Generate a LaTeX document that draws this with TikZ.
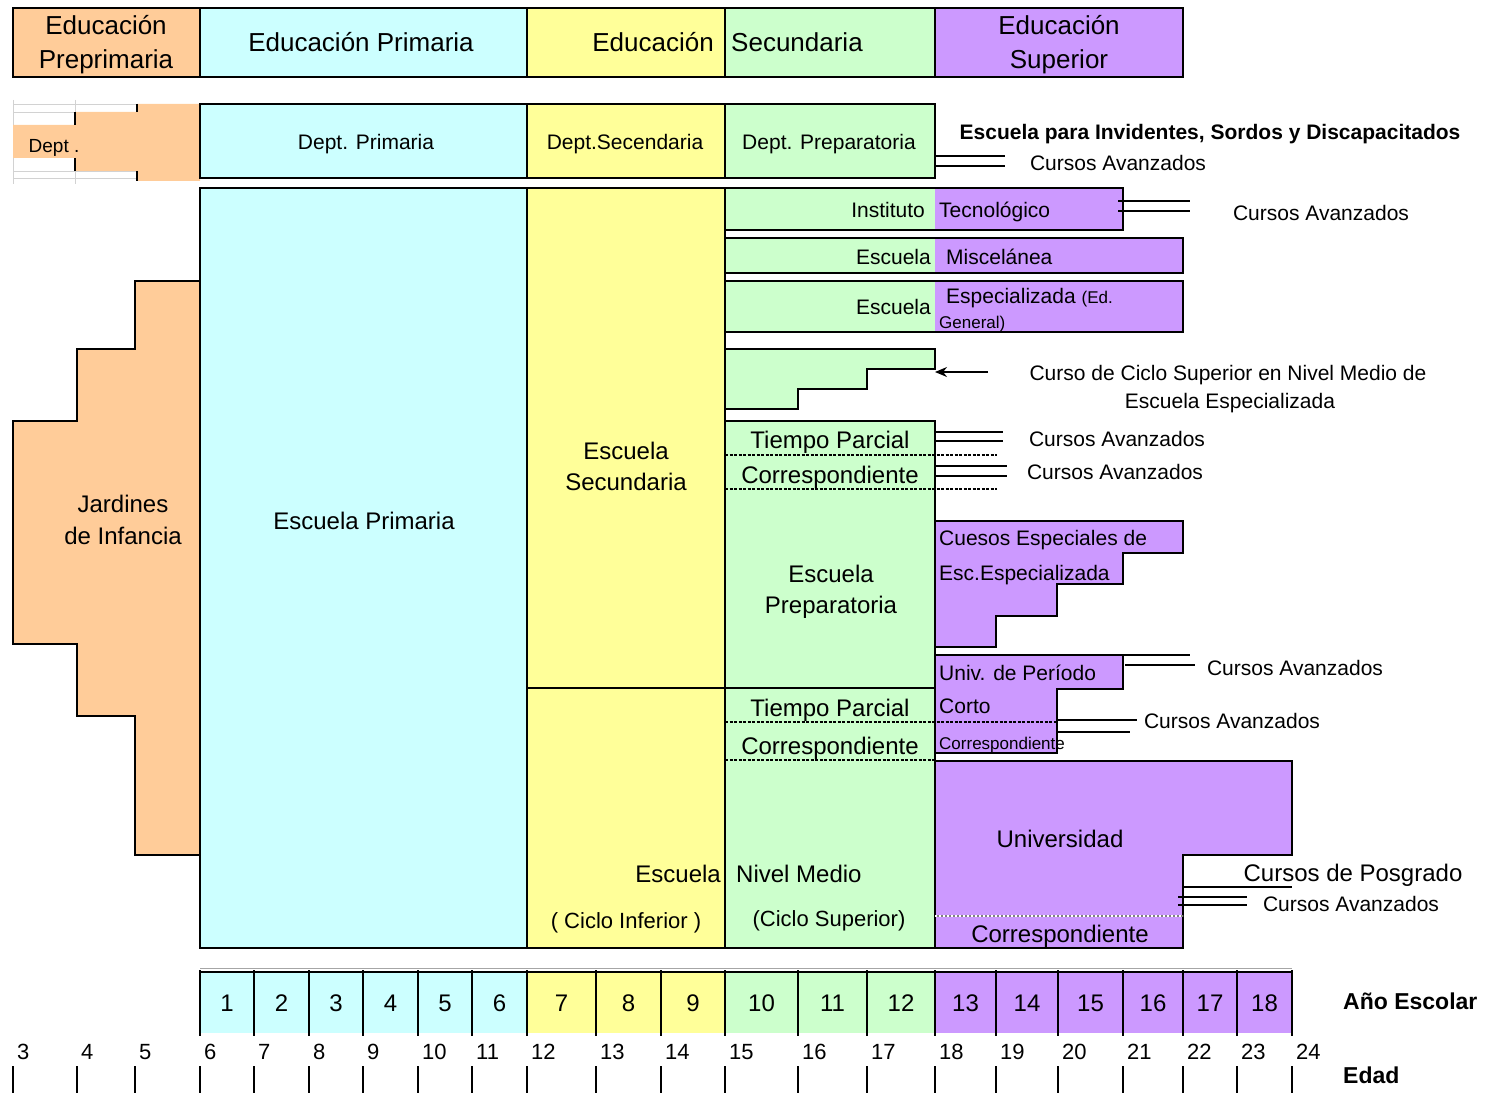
\documentclass[tikz,border=0pt]{standalone}
\usepackage{fontspec}
\setmainfont{Liberation Sans}
\usetikzlibrary{arrows.meta}
\definecolor{cOr}{HTML}{FFCC99}
\definecolor{cCy}{HTML}{CCFFFF}
\definecolor{cYe}{HTML}{FFFF99}
\definecolor{cGr}{HTML}{CCFFCC}
\definecolor{cPu}{HTML}{CC99FF}
\begin{document}
\begin{tikzpicture}[x=1pt,y=-1pt,
  bx/.style={draw=black,line width=1.6pt},
  thin line/.style={draw=black,line width=1.1pt},
  dashline/.style={draw=black,line width=1.2pt,dash pattern=on 3pt off 1.5pt},
  txt/.style={inner sep=0pt,text height=0.72em,text depth=0.21em,yshift=-5.5pt},
  f26/.style={txt,font=\fontsize{26}{30}\selectfont},
  f24/.style={txt,font=\fontsize{24}{28}\selectfont},
  f22/.style={txt,font=\fontsize{22}{26}\selectfont},
  f21/.style={txt,font=\fontsize{21}{25}\selectfont},
  f19/.style={txt,font=\fontsize{19}{23}\selectfont},
  f17/.style={txt,font=\fontsize{17}{20}\selectfont},
  fb/.style={txt,font=\fontsize{22}{26}\selectfont\bfseries},
]
\useasboundingbox (0,0) rectangle (1493,1094);

% ---------- header row ----------
\fill[cOr] (13,8) rectangle (200,77);
\fill[cCy] (200,8) rectangle (527,77);
\fill[cYe] (527,8) rectangle (725,77);
\fill[cGr] (725,8) rectangle (935,77);
\fill[cPu] (935,8) rectangle (1183,77);
\draw[bx] (13,8) rectangle (200,77);
\draw[bx] (200,8) rectangle (527,77);
\draw[bx] (527,8) rectangle (725,77);
\draw[bx] (725,8) rectangle (935,77);
\draw[bx] (935,8) rectangle (1183,77);
\node[f26] (h1a) at (106,26) {Educación};
\node[f26] (h1b) at (106,60) {Preprimaria};
\node[f26] (h2) at (361,43) {Educación Primaria};
\node[f26,anchor=east] (h3) at (714,43) {Educación};
\node[f26,anchor=west] (h4) at (731,43) {Secundaria};
\node[f26] (h5a) at (1059,26) {Educación};
\node[f26] (h5b) at (1059,60) {Superior};

% ---------- department row ----------
\draw[gray!35,line width=0.8pt] (13,100) -- (13,184) (75,100) -- (75,184)
  (13,104) -- (137,104) (13,112) -- (137,112) (13,171) -- (137,171) (13,178) -- (137,178);
\fill[cOr] (13,125) -- (75,125) -- (75,112) -- (137,112) -- (137,104) -- (200,104)
  -- (200,181) -- (137,181) -- (137,171) -- (75,171) -- (75,158) -- (13,158) -- cycle;
\draw[thin line] (75,112) -- (75,125) (75,158) -- (75,171) (137,104) -- (137,112) (137,171) -- (137,181);
\node[f19] (dpre) at (54,144) {Dept .};
\fill[cCy] (200,104) rectangle (527,178);
\fill[cYe] (527,104) rectangle (725,178);
\fill[cGr] (725,104) rectangle (935,178);
\draw[bx] (200,104) rectangle (527,178);
\draw[bx] (527,104) rectangle (725,178);
\draw[bx] (725,104) rectangle (935,178);
\node[f21] (dpri) at (366,141) {Dept. Primaria};
\node[f21] (dsec) at (625,141) {Dept.Secendaria};
\node[f21] (dprep) at (829,141) {Dept. Preparatoria};
\node[fb,font=\fontsize{21}{25}\selectfont\bfseries] (esp) at (1210,131) {Escuela para Invidentes, Sordos y Discapacitados};
\draw[thin line] (935,156) -- (1005,156) (935,166) -- (1005,166);
\node[f21] (ca1) at (1118,162) {Cursos Avanzados};

% ---------- kindergarten ----------
\draw[bx,fill=cOr] (135,281) -- (200,281) -- (200,855) -- (135,855) -- (135,716) -- (77,716)
  -- (77,644) -- (13,644) -- (13,421) -- (77,421) -- (77,349) -- (135,349) -- cycle;
\node[f24] (jar1) at (123,504) {Jardines};
\node[f24] (jar2) at (123,536) {de Infancia};

% ---------- primary ----------
\draw[bx,fill=cCy] (200,188) rectangle (527,948);
\node[f24] (prim) at (364,521) {Escuela Primaria};

% ---------- secondary (yellow) ----------
\draw[bx,fill=cYe] (527,188) rectangle (725,688);
\draw[bx,fill=cYe] (527,688) rectangle (725,948);
\node[f24] (sec1) at (626,451) {Escuela};
\node[f24] (sec2) at (626,482) {Secundaria};
\node[f24,anchor=east] (escm) at (721,874) {Escuela};
\node[f22] (cinf) at (626,920) {( Ciclo Inferior )};

% ---------- green column ----------
\fill[cGr] (725,188) rectangle (935,230);
\fill[cPu] (935,188) rectangle (1123,230);
\draw[bx] (725,188) rectangle (1123,230);
\node[f21,anchor=east] (inst) at (925,209) {Instituto};
\node[f21,anchor=west] (tec) at (939,209) {Tecnológico};
\draw[thin line] (1118,201) -- (1190,201) (1118,211) -- (1190,211);
\node[f21] (ca2) at (1321,212) {Cursos Avanzados};

\fill[cGr] (725,238) rectangle (935,273);
\fill[cPu] (935,238) rectangle (1183,273);
\draw[bx] (725,238) rectangle (1183,273);
\node[f21,anchor=east] (esc2) at (931,256) {Escuela};
\node[f21,anchor=west] (misc) at (946,256) {Miscelánea};

\fill[cGr] (725,281) rectangle (935,332);
\fill[cPu] (935,281) rectangle (1183,332);
\draw[bx] (725,281) rectangle (1183,332);
\node[f21,anchor=east] (esc3) at (931,306) {Escuela};
\node[f21,anchor=west] (espz) at (946,295) {Especializada {\fontsize{17}{20}\selectfont(Ed.}};
\node[f17,anchor=west] (gen) at (939,320) {General)};

\draw[bx,fill=cGr] (725,349) -- (935,349) -- (935,369) -- (867,369) -- (867,389) -- (798,389)
  -- (798,409) -- (725,409) -- cycle;
\coordinate (stepc) at (935,372);
\coordinate (arrs) at (988,372);
\draw[line width=1.3pt,-{Stealth[length=12pt,width=10pt]}] (arrs) -- (stepc);
\node[f21] (cc1) at (1228,372) {Curso de Ciclo Superior en Nivel Medio de};
\node[f21] (cc2) at (1230,400) {Escuela Especializada};

\draw[bx,fill=cGr] (725,421) rectangle (935,948);
\draw[bx] (527,688) -- (935,688);
\node[f24] (tp1) at (830,440) {Tiempo Parcial};
\node[f24] (co1) at (830,475) {Correspondiente};
\draw[dashline] (725,455) -- (997,455) (725,489) -- (997,489);
\draw[thin line] (935,432) -- (1003,432) (935,441) -- (1003,441);
\draw[thin line] (935,466) -- (1007,466) (935,476) -- (1007,476);
\node[f21] (ca3) at (1117,438) {Cursos Avanzados};
\node[f21] (ca4) at (1115,471) {Cursos Avanzados};
\node[f24] (prep1) at (831,574) {Escuela};
\node[f24] (prep2) at (831,605) {Preparatoria};
\node[f24] (tp2) at (830,708) {Tiempo Parcial};
\node[f24] (co2) at (830,746) {Correspondiente};
\node[f24,anchor=west] (nm) at (736,874) {Nivel Medio};
\node[f22] (csup) at (829,918) {(Ciclo Superior)};

% ---------- purple (superior) ----------
\draw[bx,fill=cPu] (935,521) -- (1183,521) -- (1183,553) -- (1123,553) -- (1123,584) -- (1057,584)
  -- (1057,616) -- (996,616) -- (996,647) -- (935,647) -- cycle;
\node[f21,anchor=west] (cue1) at (939,537) {Cuesos Especiales de};
\node[f21,anchor=west] (cue2) at (939,572) {Esc.Especializada};

\draw[bx,fill=cPu] (935,655) -- (1123,655) -- (1123,689) -- (1057,689) -- (1057,753) -- (935,753) -- cycle;
\draw[dashline] (725,722) -- (1057,722);
\draw[dashline] (725,760) -- (935,760);
\node[f21,anchor=west] (up1) at (939,672) {Univ. de Período};
\node[f21,anchor=west] (up2) at (939,705) {Corto};
\node[f17,anchor=west] (up3) at (939,741) {Correspondiente};
\draw[thin line] (1122,655) -- (1190,655) (1125,665) -- (1195,665);
\node[f21] (ca5) at (1295,667) {Cursos Avanzados};
\draw[thin line] (1057,720) -- (1137,720) (1057,732) -- (1130,732);
\node[f21] (ca6) at (1232,720) {Cursos Avanzados};

\draw[bx,fill=cPu] (935,761) -- (1292,761) -- (1292,855) -- (1183,855) -- (1183,948) -- (935,948) -- cycle;
\draw[gray,line width=1.2pt] (935,916) -- (1183,916);
\draw[white,line width=1.2pt,dash pattern=on 2pt off 2pt] (935,916) -- (1183,916);
\node[f24] (univ) at (1060,839) {Universidad};
\node[f24] (ucor) at (1060,934) {Correspondiente};
\draw[thin line] (1183,887) -- (1292,887);
\node[f24] (posg) at (1353,873) {Cursos de Posgrado};
\draw[thin line] (1178,897) -- (1247,897) (1178,905) -- (1247,905);
\node[f21] (ca7) at (1351,903) {Cursos Avanzados};

% ---------- school years ----------
\foreach \a/\b/\c/\n in {200/254/cCy/1,254/309/cCy/2,309/363/cCy/3,363/418/cCy/4,418/472/cCy/5,472/527/cCy/6,
  527/596/cYe/7,596/661/cYe/8,661/725/cYe/9,725/798/cGr/10,798/867/cGr/11,867/935/cGr/12,
  935/996/cPu/13,996/1058/cPu/14,1058/1123/cPu/15,1123/1183/cPu/16,1183/1237/cPu/17,1237/1292/cPu/18}{
  \fill[\c] (\a,972) rectangle (\b,1033);
  \node[f24] (y\n) at ({(\a+\b)/2},1003) {\n};
}
\draw[gray!70,line width=1pt] (200,968) -- (1292,968);
\draw[black,line width=1.6pt] (200,972) -- (1292,972);
\foreach \x in {200,254,309,363,418,472,527,596,661,725,798,867,935,996,1058,1123,1183,1237,1292}{
  \draw[black,line width=1.4pt] (\x,970) -- (\x,1036);
}
\node[fb,anchor=west,font=\fontsize{23}{27}\selectfont\bfseries] (anio) at (1343,1001) {Año Escolar};

% ---------- ages ----------
\foreach \x/\n in {13/3,77/4,135/5,200/6,254/7,309/8,363/9,418/10,472/11,527/12,596/13,661/14,
  725/15,798/16,867/17,935/18,996/19,1058/20,1123/21,1183/22,1237/23,1292/24}{
  \draw[black,line width=1.2pt] (\x,1066) -- (\x,1093);
  \node[f22,anchor=west] (e\n) at (\x+4,1051) {\n};
}
\node[fb,anchor=west,font=\fontsize{23}{27}\selectfont\bfseries] (edad) at (1343,1075) {Edad};
\end{tikzpicture}
\end{document}
